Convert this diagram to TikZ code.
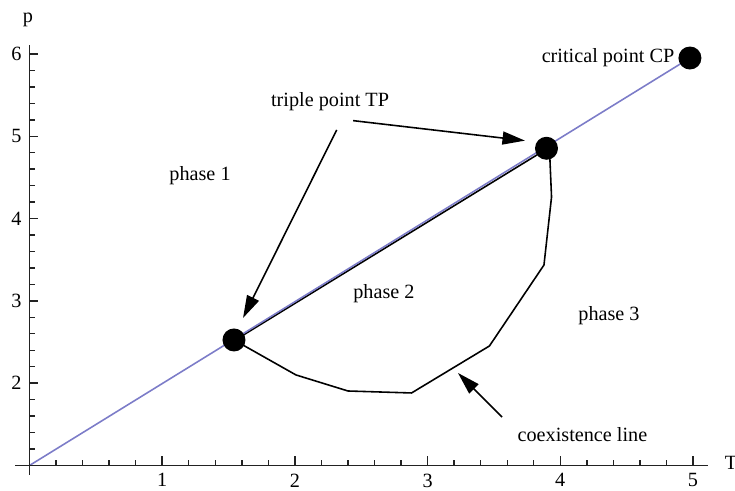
\documentclass[tikz,border=0pt]{standalone}
\usepackage{fontspec}
\setmainfont{Liberation Serif}
\usetikzlibrary{positioning,arrows.meta,backgrounds}
\definecolor{cline}{HTML}{7C7CC8}
\definecolor{cax}{HTML}{222222}
\tikzset{
  dot/.style={circle, fill=black, inner sep=0pt, minimum size=0.46cm},
  lbl/.style={font=\fontsize{11.5}{13}\selectfont, inner sep=2pt},
  axis/.style={draw=cax, line width=0.8pt},
  flow/.style={-{Triangle[length=0.45cm, width=0.26cm]}, line width=0.9pt, draw=black},
  coex/.style={draw=black, line width=0.9pt, line join=round},
  diag/.style={draw=cline, line width=0.9pt}
}

\begin{document}
\begin{tikzpicture}[x=2.654cm, y=1.646cm]
\useasboundingbox (-0.2223,0.690) rectangle (5.3166,6.656);

% axes and ticks
\draw[axis] (-0.109,1) -- (5.113,1);
\draw[axis] (0,0.885) -- (0,6.11);
\foreach \i in {1,...,25} {
  \draw[axis] ({\i/5},1) -- ++(0,0.11cm);
  \draw[axis] (0,{1+\i/5}) -- ++(0.11cm,0);
}
\foreach \t in {1,...,5} {
  \draw[axis] (\t,1) -- ++(0,0.18cm);
  \node[lbl, anchor=north, inner sep=0pt] (xt\t) at (\t,0.905) {\t};
}
\foreach \p in {2,...,6} {
  \draw[axis] (0,\p) -- ++(0.18cm,0);
  \node[lbl, anchor=east, inner sep=0pt] (yt\p) at (-0.057,\p) {\p};
}
\node[lbl] (plbl) at (-0.011,6.413) {p};
\node[lbl] (tlbl) at (5.286,1.030) {T};

% points
\coordinate (o) at (0,1);
\node[dot] (tpa) at (1.541,2.525) {};
\node[dot] (tpb) at (3.896,4.854) {};
\node[dot] (cp) at (4.977,5.951) {};

\begin{scope}[on background layer]
\draw[coex, transform canvas={yshift=-0.45pt}] (tpa.center) -- (tpb.center);
\draw[diag] (o) -- (cp.center);
\draw[coex] (tpa.center) -- (2.008,2.100) -- (2.400,1.905) -- (2.879,1.881)
  -- (3.466,2.452) -- (3.877,3.436) -- (3.934,4.262) -- (3.922,4.712) -- (tpb.center);
\end{scope}

% labels
\node[lbl, left=0pt of cp] (cplbl) {critical point CP};
\node[lbl] (tplbl) at (2.265,5.420) {triple point TP};
\node[lbl] (ph1) at (1.285,4.518) {phase 1};
\node[lbl] (ph2) at (2.671,3.084) {phase 2};
\node[lbl] (ph3) at (4.367,2.817) {phase 3};
\node[lbl] (colbl) at (4.167,1.371) {coexistence line};

% arrows
\coordinate (ta) at (2.439,5.190);
\coordinate (tae) at (3.734,4.947);
\coordinate (tb) at (2.315,5.077);
\coordinate (tbe) at (1.609,2.792);
\coordinate (cs) at (3.561,1.589);
\coordinate (ce) at (3.229,2.124);
\draw[flow] (ta) -- (tae);
\draw[flow] (tb) -- (tbe);
\draw[flow] (cs) -- (ce);
\end{tikzpicture}
\end{document}
